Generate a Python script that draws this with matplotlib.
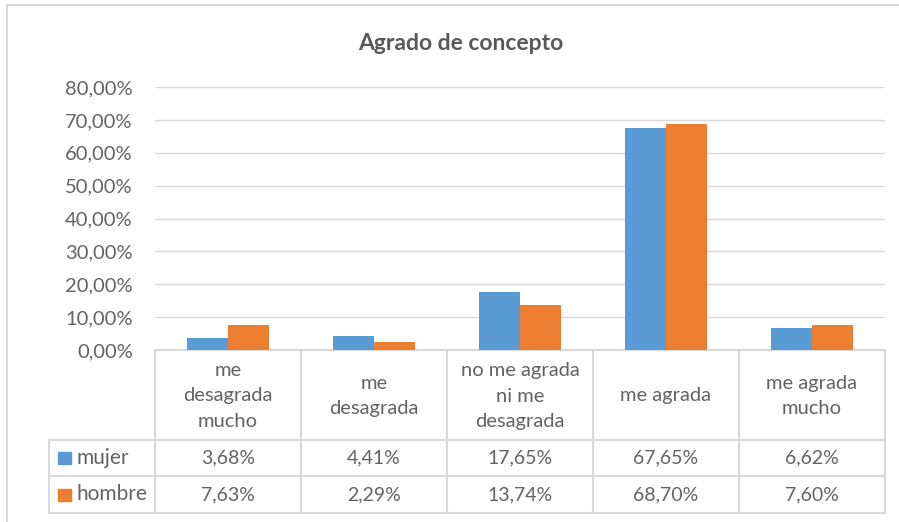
import matplotlib
matplotlib.use("Agg")
import matplotlib.pyplot as plt
from matplotlib.patches import Rectangle
import numpy as np

categories = ["me\ndesagrada\nmucho", "me\ndesagrada", "no me agrada\nni me\ndesagrada", "me agrada", "me agrada\nmucho"]
series_names = ["mujer", "hombre"]
mujer = [3.68, 4.41, 17.65, 67.65, 6.62]
hombre = [7.63, 2.29, 13.74, 68.70, 7.60]
colors = ["#5B9BD5", "#ED7D31"]
title = "Agrado de concepto"

W, H = 899, 522
fig = plt.figure(figsize=(W / 100, H / 100), dpi=100)
plt.rcParams['font.family'] = ['Lato', 'DejaVu Sans']
txt = "#636363"
grid = "#D9D9D9"

def fx(px):
    return px / W

def fy(py):
    return 1 - py / H

# outer chart border
fig.add_artist(Rectangle((fx(7), fy(600)), fx(1000), fy(5) - fy(600), transform=fig.transFigure,
                         fill=False, edgecolor=grid, lw=1.5))

L, R, T, B = 155, 885, 87, 350
ax = fig.add_axes([fx(L), fy(B), fx(R) - fx(L), fy(T) - fy(B)])
n = len(categories)
x = np.arange(n)
bw = 0.284
ax.bar(x - bw / 2, mujer, bw, color=colors[0], zorder=3)
ax.bar(x + bw / 2, hombre, bw, color=colors[1], zorder=3)
ax.set_xlim(-0.5, n - 0.5)
ax.set_ylim(0, 80)
yt = np.arange(0, 81, 10)
ax.set_yticks(yt)
ax.set_yticklabels([f"{v:.2f}%".replace(".", ",") for v in yt], color=txt, fontsize=14.5)
ax.tick_params(axis="y", length=0, pad=16)
ax.set_xticks([])
ax.grid(axis="y", color=grid, lw=1, zorder=0)
for s in ["top", "right", "left"]:
    ax.spines[s].set_visible(False)
ax.spines["bottom"].set_color(grid)
ax.spines["bottom"].set_linewidth(1.5)
fig.text(fx(461), fy(43), title, ha="center", va="center", fontsize=16.5, color="#595959", fontweight="bold")

# data table
TB = 513
tax = fig.add_axes([fx(L), fy(TB), fx(R) - fx(L), fy(B) - fy(TB)])
tax.set_xlim(-0.5, n - 0.5)
tax.set_ylim(TB - B, 0)
tax.axis("off")
row1, row2 = 440 - B, 476 - B
lab_left = -0.5 - (L - 49) / ((R - L) / n)
lk = dict(color=grid, lw=1.5, clip_on=False)
for b in np.arange(n + 1) - 0.5:
    tax.plot([b, b], [0, TB - B], **lk)
tax.plot([lab_left, n - 0.5], [row1, row1], **lk)
tax.plot([lab_left, n - 0.5], [row2, row2], **lk)
tax.plot([lab_left, n - 0.5], [TB - B, TB - B], **lk)
tax.plot([lab_left, lab_left], [row1, TB - B], **lk)
for i, c in enumerate(categories):
    tax.text(i, row1 / 2 + 1, c, ha="center", va="center", fontsize=14.5, color=txt, linespacing=1.6)
    for j, vals in enumerate([mujer, hombre]):
        yc = (row1 + row2) / 2 if j == 0 else (row2 + TB - B) / 2
        tax.text(i, yc, f"{vals[i]:.2f}%".replace(".", ","), ha="center", va="center", fontsize=14, color=txt)
ppx = (R - L) / n
for j, name in enumerate(series_names):
    yc = (row1 + row2) / 2 if j == 0 else (row2 + TB - B) / 2
    x0 = -0.5 - (L - 58) / ppx
    tax.add_patch(Rectangle((x0, yc - 6), 13 / ppx, 12, color=colors[j], clip_on=False))
    tax.text(-0.5 - (L - 77) / ppx, yc, name, ha="left", va="center", fontsize=15, color=txt)

fig.savefig("out.png", dpi=100)
